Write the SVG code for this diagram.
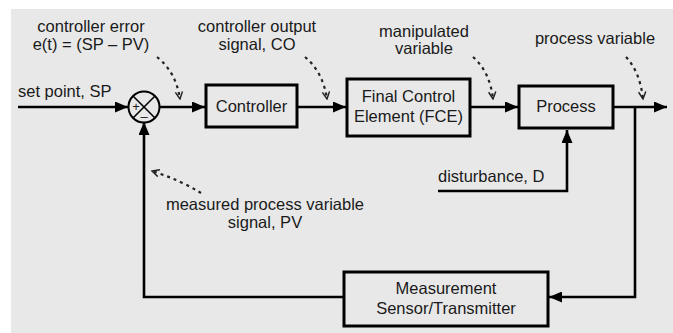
<svg xmlns="http://www.w3.org/2000/svg" width="673" height="333" viewBox="0 0 673 333">
<defs>
<marker id="ah" viewBox="0 0 13 11" refX="13" refY="5.5" markerWidth="13" markerHeight="11" markerUnits="userSpaceOnUse" orient="auto">
<path d="M0,0 L13,5.5 L0,11 Z" fill="#000"/>
</marker>
<marker id="vh" viewBox="0 0 10 10" refX="9" refY="5" markerWidth="9" markerHeight="9" markerUnits="userSpaceOnUse" orient="auto">
<path d="M1,1 L9,5 L1,9" fill="none" stroke="#222" stroke-width="1.6"/>
</marker>
<style>
.t{font-family:"Liberation Sans",Arial,sans-serif;font-size:16.5px;fill:#1a1a1a;}
.c{text-anchor:middle;}
.box{fill:#e8e8e8;stroke:#000;stroke-width:3;}
.ln{fill:none;stroke:#000;stroke-width:2.6;}
.ds{fill:none;stroke:#222;stroke-width:2.2;stroke-dasharray:3 4;}
</style>
</defs>
<rect width="673" height="333" fill="#fff"/>
<rect x="11" y="9" width="662" height="324" fill="#e8e8e8"/>

<g id="connectors">
<line class="ln" x1="18" y1="107" x2="128" y2="107" marker-end="url(#ah)"/>
<line class="ln" x1="160" y1="107" x2="205" y2="107" marker-end="url(#ah)"/>
<line class="ln" x1="298" y1="107" x2="346" y2="107" marker-end="url(#ah)"/>
<line class="ln" x1="471" y1="107" x2="518" y2="107" marker-end="url(#ah)"/>
<line class="ln" x1="614" y1="107" x2="667" y2="107" marker-end="url(#ah)"/>
<polyline class="ln" points="635,107 635,297 549,297" marker-end="url(#ah)"/>
<polyline class="ln" points="343,297 144,297 144,122" marker-end="url(#ah)"/>
<polyline class="ln" points="438,191 567,191 567,130" marker-end="url(#ah)"/>
<path class="ds" d="M157,57 Q176,72 180,99" marker-end="url(#vh)"/>
<path class="ds" d="M305,57 Q323,72 327,99" marker-end="url(#vh)"/>
<path class="ds" d="M473,57 Q490,72 493,99" marker-end="url(#vh)"/>
<path class="ds" d="M626,57 Q640,72 643,99" marker-end="url(#vh)"/>
<path class="ds" d="M201,193 Q180,180 152,171" marker-end="url(#vh)"/>
</g>

<g id="sum">
<circle cx="144" cy="107" r="15.5" fill="#e8e8e8" stroke="#000" stroke-width="2"/>
<line x1="133" y1="96" x2="155" y2="118" stroke="#000" stroke-width="1.6"/>
<line x1="155" y1="96" x2="133" y2="118" stroke="#000" stroke-width="1.6"/>
<text class="t" x="136" y="111" style="font-size:13px" text-anchor="middle">+</text>
<text class="t" x="144" y="121" style="font-size:13px" text-anchor="middle">–</text>
</g>

<g id="controller">
<rect class="box" x="206" y="85" width="91" height="42"/>
<text class="t c" x="251.5" y="112">Controller</text>
</g>

<g id="fce">
<rect class="box" x="347" y="79" width="123" height="57"/>
<text class="t c" x="408.5" y="102">Final Control</text>
<text class="t c" x="408.5" y="122">Element (FCE)</text>
</g>

<g id="process">
<rect class="box" x="519" y="86" width="94" height="42"/>
<text class="t c" x="566" y="112">Process</text>
</g>

<g id="measurement">
<rect class="box" x="344" y="272" width="204" height="54"/>
<text class="t c" x="446" y="294">Measurement</text>
<text class="t c" x="446" y="314">Sensor/Transmitter</text>
</g>

<g id="labels">
<text class="t c" x="91" y="32">controller error</text>
<text class="t c" x="91" y="50">e(t) = (SP – PV)</text>
<text class="t c" x="257" y="32">controller output</text>
<text class="t c" x="257" y="50">signal, CO</text>
<text class="t c" x="424" y="37">manipulated</text>
<text class="t c" x="424" y="54">variable</text>
<text class="t c" x="595" y="44">process variable</text>
<text class="t" x="18" y="97">set point, SP</text>
<text class="t c" x="265" y="210">measured process variable</text>
<text class="t c" x="265" y="228">signal, PV</text>
<text class="t" x="438" y="182">disturbance, D</text>
</g>
</svg>
